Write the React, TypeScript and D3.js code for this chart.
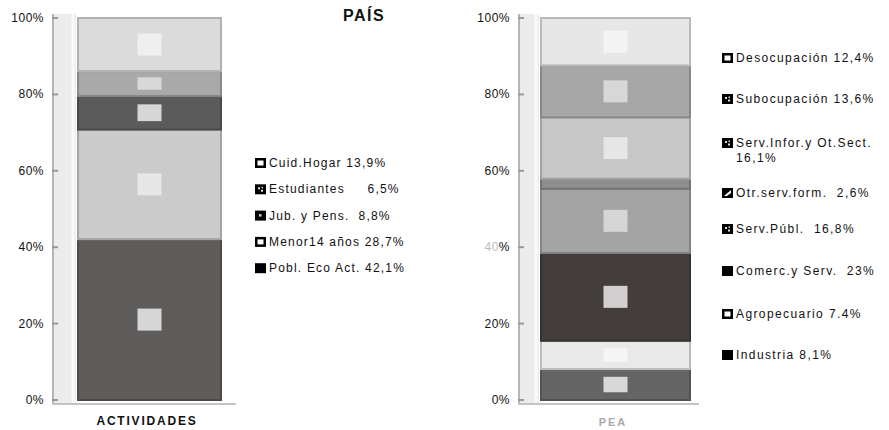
import React from "react";
import * as d3 from "d3";

const leftCategories = ["Pobl. Eco Act.", "Menor14 años", "Jub. y Pens.", "Estudiantes", "Cuid.Hogar"];
const leftValues = [42.1, 28.7, 8.8, 6.5, 13.9];
const leftLegendLabels = ["Cuid.Hogar 13,9%", "Estudiantes     6,5%", "Jub. y Pens.  8,8%", "Menor14 años 28,7%", "Pobl. Eco Act. 42,1%"];

const rightCategories = ["Industria", "Agropecuario", "Comerc.y Serv.", "Serv.Públ.", "Otr.serv.form.", "Serv.Infor.y Ot.Sect.", "Subocupación", "Desocupación"];
const rightValues = [8.1, 7.4, 23, 16.8, 2.6, 16.1, 13.6, 12.4];
const rightLegendLabels = [
  ["Desocupación 12,4%"],
  ["Subocupación 13,6%"],
  ["Serv.Infor.y Ot.Sect.", "16,1%"],
  ["Otr.serv.form.  2,6%"],
  ["Serv.Públ.  16,8%"],
  ["Comerc.y Serv.  23%"],
  ["Agropecuario 7.4%"],
  ["Industria 8,1%"],
];

const yTicks = [0, 20, 40, 60, 80, 100];

const leftFills = ["#5f5d5c", "#cbcbcb", "#5b5b5b", "#a9a9a9", "#dbdbdb"];
const rightFills = ["#666565", "#e9e9e9", "#433e3c", "#a4a4a4", "#8e8e8e", "#c7c7c7", "#a7a7a7", "#e7e7e7"];
const leftIcons = ["hollow", "dots", "dot", "hollow", "solid"];
const rightIcons = ["hollow", "dots", "dots", "diag", "dots", "solid", "hollow", "solid"];

const FONT = "'Liberation Sans', Arial, sans-serif";

function Icon({ x, y, kind }: { x: number; y: number; kind: string }) {
  const w = 11;
  const h = 10;
  return (
    <g>
      <rect x={x} y={y} width={w} height={h} fill="#000" />
      {kind === "hollow" && <rect x={x + 2.5} y={y + 2.5} width={w - 5} height={h - 5} fill="#fff" />}
      {kind === "dots" && (
        <g fill="#ddd">
          <rect x={x + 3} y={y + 3} width={2} height={2} />
          <rect x={x + 6} y={y + 5.5} width={2} height={2} />
          <rect x={x + 6.5} y={y + 2.5} width={1.5} height={1.5} />
        </g>
      )}
      {kind === "dot" && <rect x={x + 4} y={y + 3.5} width={2.5} height={2.5} fill="#ccc" />}
      {kind === "diag" && <path d={`M${x + 2},${y + 8} L${x + 9},${y + 2} L${x + 9},${y + 5} L${x + 5},${y + 8} Z`} fill="#fff" />}
    </g>
  );
}

function StackBar({
  values,
  fills,
  x0,
  x1,
  y,
}: {
  values: number[];
  fills: string[];
  x0: number;
  x1: number;
  y: d3.ScaleLinear<number, number>;
}) {
  const ends = Array.from(d3.cumsum(values));
  return (
    <g>
      {values.map((v, i) => {
        const start = i === 0 ? 0 : ends[i - 1];
        const end = ends[i];
        const yt = y(end);
        const yb = y(start);
        const h = yb - yt;
        const stroke = d3.color(fills[i])!.darker(0.6).toString();
        const cx = (x0 + x1) / 2;
        const bw = 24;
        const bh = Math.min(22, h * 0.5);
        const dark = d3.hsl(fills[i]).l < 0.5;
        return (
          <g key={i}>
            <rect x={x0} y={yt} width={x1 - x0} height={h} fill={fills[i]} stroke={stroke} strokeWidth={2} />
            {v > 5 && (
              <rect x={cx - bw / 2} y={(yt + yb) / 2 - bh / 2} width={bw} height={bh} fill="#fff" opacity={dark ? 0.75 : 0.55} />
            )}
          </g>
        );
      })}
    </g>
  );
}

function Axis({ xRight, stripX0, stripX1, y, smudge }: { xRight: number; stripX0: number; stripX1: number; y: d3.ScaleLinear<number, number>; smudge?: boolean }) {
  return (
    <g>
      <rect x={stripX0} y={y(100) - 4} width={stripX1 - stripX0} height={y(0) - y(100) + 8} fill="#ececec" />
      <line x1={stripX0 + 1} x2={stripX0 + 1} y1={y(100) - 4} y2={y(0) + 4} stroke="#b5b5b5" strokeWidth={2} />
      <line x1={stripX1 - 3} x2={stripX1 - 3} y1={y(100) - 4} y2={y(0) + 4} stroke="#fafafa" strokeWidth={3} />
      <line x1={stripX0} x2={stripX1 + 160} y1={y(0) + 4} y2={y(0) + 4} stroke="#c4c4c4" strokeWidth={2} />
      {yTicks.map((t) => (
        <g key={t}>
          <line x1={stripX0} x2={stripX0 + 6} y1={y(t)} y2={y(t)} stroke="#999" strokeWidth={2} />
          <text x={xRight} y={y(t) + 4} textAnchor="end" fontSize={12} fontFamily={FONT} letterSpacing={0.5} fill="#111">
            {smudge && t === 40 ? (
              <>
                <tspan fill="#bdbdbd">40</tspan>
                <tspan>%</tspan>
              </>
            ) : (
              `${t}%`
            )}
          </text>
        </g>
      ))}
    </g>
  );
}

export default function App() {
  const y = d3.scaleLinear().domain([0, 100]).range([400, 18]);
  const leftBaselines = leftLegendLabels.map((_, i) => 167 + i * 26.3);
  const rightBaselines = [62, 103, 147, 197, 233, 275, 318, 359];
  return (
    <svg width={889} height={430} style={{ position: "absolute", left: 0, top: 0, background: "#fff" }} fontFamily={FONT}>
      <rect width={889} height={430} fill="#fff" />
      {/* Left chart */}
      <Axis xRight={44} stripX0={52} stripX1={76} y={y} />
      <StackBar values={leftValues} fills={leftFills} x0={78} x1={221} y={y} />
      <text x={147} y={425} textAnchor="middle" fontSize={12} fontWeight="bold" letterSpacing={1.8} fill="#111">
        ACTIVIDADES
      </text>
      <text x={364} y={21} textAnchor="middle" fontSize={16} fontWeight="bold" letterSpacing={1.5} fill="#111">
        PAÍS
      </text>
      {leftLegendLabels.map((lab, i) => (
        <g key={i}>
          <Icon x={255} y={leftBaselines[i] - 9} kind={leftIcons[i]} />
          <text x={269} y={leftBaselines[i]} fontSize={12} letterSpacing={1.2} fill="#111" style={{ whiteSpace: "pre" }}>
            {lab}
          </text>
        </g>
      ))}

      {/* Right chart */}
      <Axis xRight={510} stripX0={518} stripX1={539} y={y} smudge />
      <StackBar values={rightValues} fills={rightFills} x0={541} x1={690} y={y} />
      <text x={613} y={426} textAnchor="middle" fontSize={11} fontWeight="bold" letterSpacing={2} fill="#aaaaaa">
        PEA
      </text>
      {rightLegendLabels.map((lines, i) => (
        <g key={i}>
          <Icon x={722} y={rightBaselines[i] - 9} kind={rightIcons[i]} />
          {lines.map((l, j) => (
            <text key={j} x={736} y={rightBaselines[i] + j * 15} fontSize={12} letterSpacing={1.4} fill="#111" style={{ whiteSpace: "pre" }}>
              {l}
            </text>
          ))}
        </g>
      ))}
    </svg>
  );
}
